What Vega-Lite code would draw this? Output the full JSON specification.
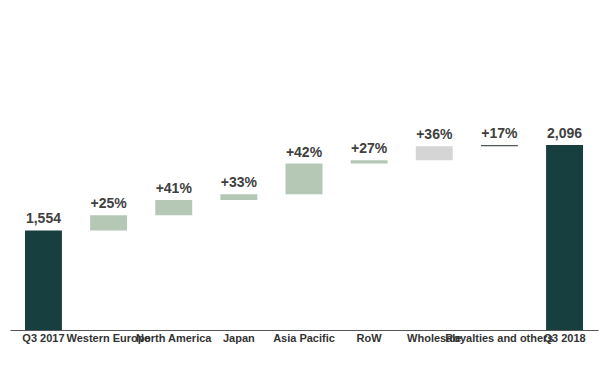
{
  "$schema": "https://vega.github.io/schema/vega-lite/v6.json",
  "width": 588,
  "height": 270,
  "padding": {"left": 10, "top": 60, "right": 2, "bottom": 40},
  "config": {"view": {"stroke": null}},
  "data": {
    "values": [
      {"cat": "Q3 2017", "kind": "total", "lo": 923, "hi": 1554, "label": "1,554"},
      {"cat": "Western Europe", "kind": "retail", "lo": 1554, "hi": 1651, "label": "+25%"},
      {"cat": "North America", "kind": "retail", "lo": 1651, "hi": 1747, "label": "+41%"},
      {"cat": "Japan", "kind": "retail", "lo": 1747, "hi": 1784, "label": "+33%"},
      {"cat": "Asia Pacific", "kind": "retail", "lo": 1784, "hi": 1978, "label": "+42%"},
      {"cat": "RoW", "kind": "retail", "lo": 1978, "hi": 2000, "label": "+27%"},
      {"cat": "Wholesale", "kind": "wholesale", "lo": 2000, "hi": 2088, "label": "+36%"},
      {"cat": "Royalties and others", "kind": "royalties", "lo": 2088, "hi": 2096, "label": "+17%"},
      {"cat": "Q3 2018", "kind": "total", "lo": 923, "hi": 2096, "label": "2,096"}
    ]
  },
  "layer": [
    {
      "mark": {"type": "bar"},
      "encoding": {
        "x": {
          "field": "cat",
          "type": "nominal",
          "scale": {"domain": ["Q3 2017", "Western Europe", "North America", "Japan", "Asia Pacific", "RoW", "Wholesale", "Royalties and others", "Q3 2018"], "paddingInner": 0.433, "paddingOuter": 0.23},
          "axis": {"title": null, "labelAngle": 0, "ticks": false, "domainColor": "#555555", "labelFontSize": 11, "labelFontWeight": "bold", "labelColor": "#333333"}
        },
        "y": {
          "field": "hi",
          "type": "quantitative",
          "scale": {"domain": [923, 2635], "zero": false, "nice": false},
          "axis": null
        },
        "y2": {"field": "lo"},
        "color": {
          "field": "kind",
          "type": "nominal",
          "scale": {"domain": ["total", "retail", "wholesale", "royalties"], "range": ["#173f3f", "#b5c8b6", "#d5d5d5", "#4e5955"]},
          "legend": null
        }
      }
    },
    {
      "mark": {"type": "text", "dy": -7, "baseline": "alphabetic", "fontWeight": "bold", "fontSize": 14, "color": "#404040"},
      "encoding": {
        "x": {"field": "cat", "type": "nominal"},
        "y": {"field": "hi", "type": "quantitative"},
        "text": {"field": "label", "type": "nominal"}
      }
    }
  ]
}
